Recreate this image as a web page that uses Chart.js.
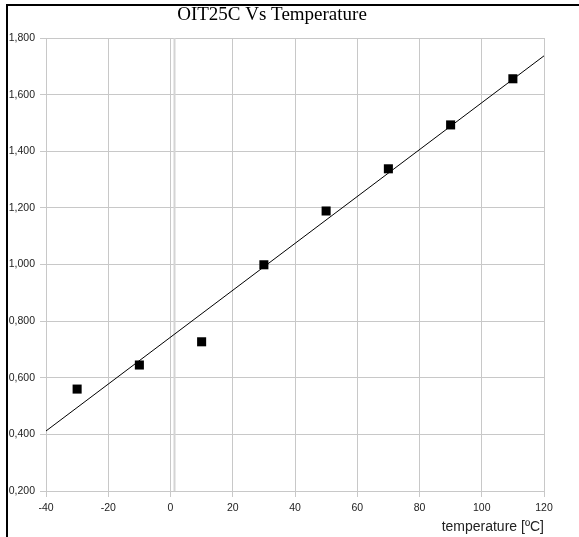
<!DOCTYPE html>
<html>
<head>
<meta charset="utf-8">
<title>OIT25C Vs Temperature</title>
<script src="https://cdn.jsdelivr.net/npm/chart.js@4/dist/chart.umd.min.js"></script>
<style>
  html, body { margin: 0; padding: 0; background: #fff; }
  #wrap { width: 579px; height: 537px; }
</style>
</head>
<body>
<div id="wrap"><canvas id="oitChart" width="579" height="537"></canvas></div>
<script>
// Measured points
const temperatures = [-30, -10, 10, 30, 50, 70, 90, 110];
const oitValues = [0.560, 0.645, 0.727, 0.999, 1.189, 1.338, 1.493, 1.656];

// Trend line ends
const trendX = [-40, 120];
const trendY = [0.412, 1.737];

// Axis ticks
const xTicks = [-40, -20, 0, 20, 40, 60, 80, 100, 120];
const yTicks = [0.2, 0.4, 0.6, 0.8, 1.0, 1.2, 1.4, 1.6, 1.8];

const gridColor = '#c8c8c8';
const tickFont = { family: '"Liberation Sans", Arial, sans-serif', size: 10.5 };

// black frame on left and top edges
const framePlugin = {
  id: 'frame',
  afterDraw(chart) {
    const ctx = chart.ctx;
    ctx.save();
    ctx.fillStyle = '#000';
    ctx.fillRect(6, 4, 2, chart.height - 4);
    ctx.fillRect(6, 4, chart.width - 6, 2);
    ctx.restore();
  }
};

// second light line just right of zero (the value axis)
const zeroAxisPlugin = {
  id: 'zeroAxis',
  beforeDatasetsDraw(chart) {
    const { ctx, chartArea, scales } = chart;
    const x = Math.round(scales.x.getPixelForValue(0)) + 3.5;
    ctx.save();
    ctx.strokeStyle = '#d4d4d4';
    ctx.lineWidth = 2;
    ctx.beginPath();
    ctx.moveTo(x, chartArea.top);
    ctx.lineTo(x, chartArea.bottom);
    ctx.stroke();
    ctx.restore();
  }
};

const ctx = document.getElementById('oitChart').getContext('2d');

new Chart(ctx, {
  type: 'scatter',
  data: {
    datasets: [
      {
        label: 'OIT25C',
        data: temperatures.map((t, i) => ({ x: t, y: oitValues[i] })),
        pointStyle: 'rect',
        pointRadius: 6.4,
        pointBorderWidth: 0,
        backgroundColor: '#000',
        borderColor: '#000',
        order: 1
      },
      {
        label: 'Trend',
        type: 'line',
        data: trendX.map((t, i) => ({ x: t, y: trendY[i] })),
        borderColor: '#000',
        borderWidth: 1,
        pointRadius: 0,
        fill: false,
        order: 2
      }
    ]
  },
  options: {
    responsive: false,
    animation: false,
    layout: { padding: { left: 0, right: 35, top: 0, bottom: 0 } },
    plugins: {
      legend: { display: false },
      tooltip: { enabled: false },
      title: {
        display: true,
        text: 'OIT25C Vs Temperature',
        color: '#000',
        font: { family: '"Liberation Serif", "Times New Roman", serif', size: 19, weight: 'normal', lineHeight: 1.2 },
        padding: { top: 4, bottom: 11.2 }
      }
    },
    scales: {
      x: {
        type: 'linear',
        min: -40,
        max: 120,
        afterBuildTicks: scale => { scale.ticks = xTicks.map(v => ({ value: v })); },
        afterFit: scale => { scale.height = 46; },
        grid: { color: gridColor, tickLength: 6, drawTicks: true },
        border: { display: false },
        ticks: { color: '#222', font: tickFont, padding: 5, maxRotation: 0 },
        title: {
          display: true,
          text: 'temperature [ºC]',
          align: 'end',
          color: '#222',
          font: { family: '"Liberation Sans", Arial, sans-serif', size: 14 },
          padding: { top: 0, bottom: 1 }
        }
      },
      y: {
        type: 'linear',
        min: 0.2,
        max: 1.8,
        afterBuildTicks: scale => { scale.ticks = yTicks.map(v => ({ value: v })); },
        afterFit: scale => { scale.width = 46; },
        grid: { color: gridColor, tickLength: 6 },
        border: { display: false },
        ticks: {
          color: '#222',
          font: tickFont,
          padding: 5,
          callback: value => value.toFixed(3).replace('.', ',')
        }
      }
    }
  },
  plugins: [zeroAxisPlugin, framePlugin]
});
</script>
</body>
</html>
